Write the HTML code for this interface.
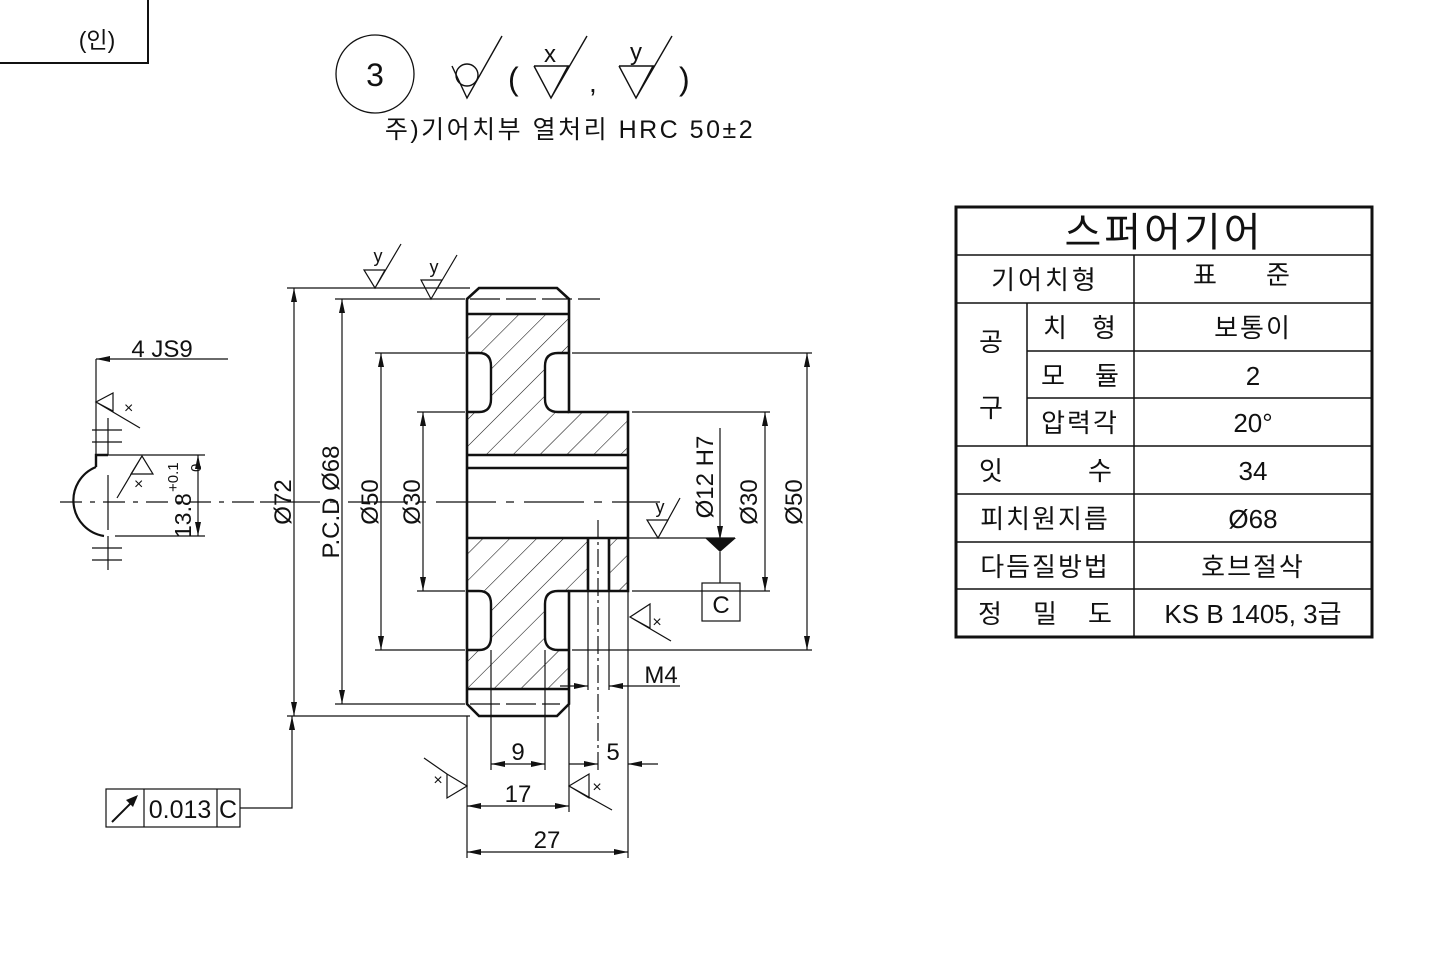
<!DOCTYPE html>
<html><head><meta charset="utf-8"><style>
html,body{margin:0;padding:0;background:#fff;}
svg{display:block;}
text{font-family:"Liberation Sans","Noto Sans CJK KR",sans-serif;fill:#111;}
</style></head><body>
<svg width="1436" height="954" viewBox="0 0 1436 954" xmlns="http://www.w3.org/2000/svg">
<defs>
<pattern id="h" patternUnits="userSpaceOnUse" width="19" height="19" patternTransform="rotate(45)">
<line x1="0" y1="0" x2="0" y2="19" stroke="#111" stroke-width="1.1"/>
</pattern>
<marker id="a" viewBox="0 0 14 6" refX="14" refY="3" markerWidth="14" markerHeight="6" markerUnits="userSpaceOnUse" orient="auto-start-reverse"><path d="M0,0 L14,3 L0,6z" fill="#111"/></marker>
</defs>

<path d="M0,63 H148 V0" fill="none" stroke="#111" stroke-width="2"/>
<text x="97" y="48" font-size="23" text-anchor="middle">(인)</text>

<circle cx="375" cy="74" r="39" fill="none" stroke="#111" stroke-width="1.3"/>
<text x="375" y="86" font-size="32" text-anchor="middle">3</text>
<g fill="none" stroke="#111" stroke-width="1.4">
<path d="M452,66 L467,98 L502,36"/><circle cx="467" cy="75" r="11"/>
<path d="M534,66 H568 L551,98 L534,66 M551,98 L587,36"/>
<path d="M619,66 H653 L636,98 L619,66 M636,98 L672,36"/>
</g>
<text x="508" y="90" font-size="32">(</text>
<text x="550" y="62" font-size="24" text-anchor="middle">x</text>
<text x="589" y="92" font-size="28">,</text>
<text x="636" y="60" font-size="24" text-anchor="middle">y</text>
<text x="679" y="90" font-size="32">)</text>
<text x="570" y="138" font-size="25" letter-spacing="2.5" text-anchor="middle">주)기어치부 열처리 HRC 50±2</text>

<g stroke="#111" fill="none">
<rect x="956" y="207" width="416" height="430" stroke-width="3"/>
<path d="M956,255 H1372 M956,303 H1372 M1027,351 H1372 M1027,398 H1372 M956,446 H1372 M956,494 H1372 M956,542 H1372 M956,589 H1372 M1134,255 V637 M1027,303 V446" stroke-width="1.5"/>
</g>
<g font-size="26" text-anchor="middle">
<text x="1164" y="246" font-size="40" letter-spacing="3">스퍼어기어</text>
<text x="1045" y="289" letter-spacing="3">기어치형</text>
<text x="1205" y="284">표</text><text x="1278" y="284">준</text>
<text x="991" y="351">공</text><text x="991" y="417">구</text>
<text x="1055" y="337">치</text><text x="1104" y="337">형</text>
<text x="1253" y="337" letter-spacing="2">보통이</text>
<text x="1053" y="385">모</text><text x="1107" y="385">듈</text>
<text x="1253" y="385">2</text>
<text x="1080" y="432" letter-spacing="2">압력각</text>
<text x="1253" y="432">20°</text>
<text x="991" y="480">잇</text><text x="1100" y="480">수</text>
<text x="1253" y="480">34</text>
<text x="1045" y="528" letter-spacing="2">피치원지름</text>
<text x="1253" y="528">Ø68</text>
<text x="1045" y="576" letter-spacing="2">다듬질방법</text>
<text x="1253" y="576" letter-spacing="2">호브절삭</text>
<text x="990" y="623">정</text><text x="1045" y="623">밀</text><text x="1100" y="623">도</text>
<text x="1253" y="623">KS B 1405, 3급</text>
</g>

<path d="M467,314 H569 V412 H628 V455 H467Z" fill="url(#h)"/>
<path d="M467,538 H628 V591 H569 V689 H467Z" fill="url(#h)"/>
<rect x="588" y="538" width="21" height="53" fill="#fff"/>
<g fill="#fff" stroke="#111" stroke-width="2.4">
<path d="M467,353 H479 Q491,353 491,366 V399 Q491,412 479,412 H467"/>
<path d="M569,353 H558 Q545,353 545,366 V399 Q545,412 558,412 H569"/>
<path d="M467,591 H479 Q491,591 491,604 V637 Q491,650 479,650 H467"/>
<path d="M569,591 H558 Q545,591 545,604 V637 Q545,650 558,650 H569"/>
</g>
<g fill="none" stroke="#111" stroke-width="2.6">
<path d="M467,299 L479,288 H557 L569,299 V412 H628 V591 H569 V704 L557,716 H479 L467,704 Z"/>
<path d="M467,314 H569 M467,689 H569 M467,455 H628 M467,468 H628 M467,538 H628"/>
<path d="M588,538 V591 M609,538 V591" />
</g>
<g fill="none" stroke="#111" stroke-width="1.2">
<path d="M598,520 V770" stroke-dasharray="18,4,3,4"/>
<path d="M260,502 H660" stroke-dasharray="60,10,8,10"/>
<path d="M470,299 H600" stroke-dasharray="30,6"/>
<path d="M470,704 H560" stroke-dasharray="30,6"/>
<path d="M287,288 H470 M287,716 H470 M335,299 H465 M335,704 H465 M375,353 H465 M417,412 H465 M375,650 H465 M417,591 H465"/>
<path d="M572,353 H812 M632,412 H770 M632,591 H770 M572,650 H812 M628,538 H735"/>
<path d="M467,716 V858 M491,650 V770 M545,650 V770 M569,704 V812 M588,591 V690 M609,591 V690 M628,591 V858"/>
</g>
<g fill="none" stroke="#111" stroke-width="1.2" marker-start="url(#a)" marker-end="url(#a)">
<path d="M294,288 V716"/>
<path d="M342,299 V704"/>
<path d="M381,353 V650"/>
<path d="M423,412 V591"/>
<path d="M765,412 V591"/>
<path d="M807,353 V650"/>
<path d="M491,764 H545"/>
<path d="M467,806 H569"/>
<path d="M467,852 H628"/>
<path d="M198,455 V536"/>
</g>
<g fill="none" stroke="#111" stroke-width="1.2">
<path d="M569,764 H598" marker-end="url(#a)"/>
<path d="M658,764 H628" marker-end="url(#a)"/>
<path d="M560,686 H588" marker-end="url(#a)"/>
<path d="M680,686 H609" marker-end="url(#a)"/>
<path d="M228,359 H96" marker-end="url(#a)"/>
<path d="M240,808 H292 V716" marker-end="url(#a)"/>
<path d="M720,428 V540" marker-end="url(#a)"/>
<path d="M720,552 V583"/>
</g>
<path d="M705,538 H736 L720,552Z" fill="#111"/>
<rect x="702" y="583" width="38" height="38" fill="none" stroke="#111" stroke-width="1.2"/>
<text x="721" y="613" font-size="24" text-anchor="middle">C</text>

<g font-size="24" text-anchor="middle">
<text transform="translate(291,502) rotate(-90)">Ø72</text>
<text transform="translate(339,502) rotate(-90)">P.C.D Ø68</text>
<text transform="translate(378,502) rotate(-90)">Ø50</text>
<text transform="translate(420,502) rotate(-90)">Ø30</text>
<text transform="translate(713,477) rotate(-90)">Ø12 H7</text>
<text transform="translate(757,502) rotate(-90)">Ø30</text>
<text transform="translate(802,502) rotate(-90)">Ø50</text>
<text x="518" y="760">9</text>
<text x="613" y="760">5</text>
<text x="518" y="802">17</text>
<text x="547" y="848">27</text>
<text x="661" y="683">M4</text>
<text x="162" y="357">4 JS9</text>
</g>
<text transform="translate(191,538) rotate(-90)" font-size="23">13.8</text>
<text transform="translate(178,492) rotate(-90)" font-size="15">+0.1</text>
<text transform="translate(201,472) rotate(-90)" font-size="15">0</text>

<g fill="none" stroke="#111" stroke-width="1.2">
<path d="M364,270 H385 L375,288 Z M375,288 L401,244"/>
<path d="M421,280 H442 L431,299 Z M431,299 L457,255"/>
<path d="M647,520 H668 L658,538 Z M658,538 L680,498"/>
<path d="M630,617 L650,604 V628 Z M630,617 L671,641"/>
<path d="M467,786 L447,774 V798 Z M447,774 L424,758"/>
<path d="M569,786 L589,774 V798 Z M569,786 L612,810"/>
</g>
<g font-size="18" text-anchor="middle">
<text x="378" y="262">y</text><text x="434" y="273">y</text><text x="660" y="513">y</text>
<text x="657" y="627" font-size="16">×</text>
<text x="438" y="785" font-size="16">×</text>
<text x="597" y="792" font-size="16">×</text>
</g>

<g fill="none" stroke="#111">
<path d="M96,359 V455" stroke-width="1.2"/>
<path d="M96,467 V455 H108" stroke-width="2.4"/>
<path d="M96,467 A36,36 0 0 0 104,536" stroke-width="2.2"/>
<path d="M60,502 H260" stroke-width="1.2" stroke-dasharray="22,8,5,8"/>
<path d="M108,475 V530 M92,430 H122 M92,442 H122 M108,418 V455 M92,548 H122 M92,560 H122 M108,536 V570" stroke-width="1.2"/>
<path d="M108,455 H205 M115,536 H205" stroke-width="1.2"/>
<path d="M96,402 L113,393 V411 Z M96,402 L140,428" stroke-width="1.2"/>
<path d="M142,456 L131,474 H153 Z M142,456 L117,498" stroke-width="1.2"/>
</g>
<text x="124" y="413" font-size="16">×</text>
<text x="134" y="489" font-size="16">×</text>

<g fill="none" stroke="#111" stroke-width="1.2">
<rect x="106" y="789" width="134" height="38"/>
<path d="M144,789 V827 M217,789 V827"/>
<path d="M112,822 L136,798" stroke-width="2"/>
</g>
<path d="M138,795 L126,800 L133,807Z" fill="#111"/>
<text x="180" y="818" font-size="25" text-anchor="middle">0.013</text>
<text x="228" y="818" font-size="25" text-anchor="middle">C</text>
</svg>
</body></html>
